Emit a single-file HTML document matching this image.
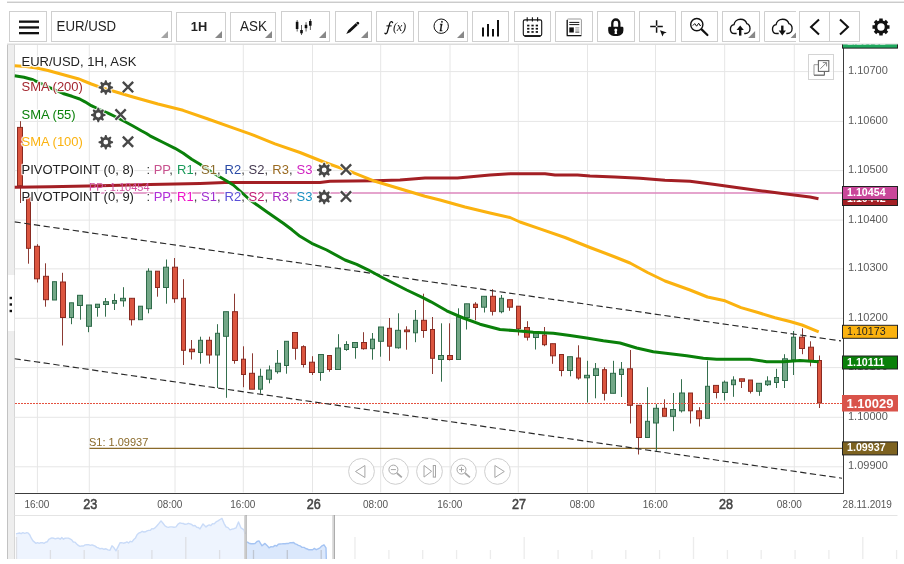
<!DOCTYPE html>
<html><head><meta charset="utf-8"><title>EUR/USD chart</title>
<style>
html,body{margin:0;padding:0;background:#fff;}
body{width:904px;height:564px;overflow:hidden;font-family:"Liberation Sans", sans-serif;}
svg{display:block;will-change:transform;}
text{font-family:"Liberation Sans", sans-serif;}
</style></head><body>
<svg width="904" height="564" viewBox="0 0 904 564">
<rect width="904" height="564" fill="#fff"/>

<rect x="7" y="1.6" width="897" height="1.3" fill="#c6c6c6"/>
<g fill="#fff" stroke="#cfcfcf" stroke-width="1">
<rect x="9.5" y="11.5" width="37.0" height="30"/>
<rect x="51.5" y="11.5" width="120.0" height="30"/>
<rect x="176.5" y="12.5" width="49.0" height="29"/>
<rect x="230.5" y="12.5" width="45.0" height="29"/>
<rect x="281.5" y="11.5" width="48.0" height="30"/>
<rect x="335.5" y="11.5" width="36.0" height="30"/>
<rect x="376.5" y="11.5" width="37.0" height="30"/>
<rect x="418.5" y="11.5" width="49.0" height="30"/>
<rect x="472.5" y="11.5" width="36.0" height="30"/>
<rect x="514.5" y="11.5" width="36.0" height="30"/>
<rect x="555.5" y="11.5" width="37.0" height="30"/>
<rect x="597.5" y="11.5" width="37.0" height="30"/>
<rect x="639.5" y="11.5" width="36.0" height="30"/>
<rect x="681.5" y="11.5" width="36.0" height="30"/>
<rect x="722.5" y="11.5" width="37.0" height="30"/>
<rect x="799.5" y="11.5" width="30.0" height="30"/>
<rect x="829.5" y="11.5" width="30.0" height="30"/>
<path d="M796,11.5H764.5V41.5H796"/>
</g>
<path d="M168.0,38 L161.0,38 L168.0,31 Z" fill="#a4a4a4"/>
<path d="M222.0,38 L215.0,38 L222.0,31 Z" fill="#888"/>
<path d="M272.0,38 L265.0,38 L272.0,31 Z" fill="#888"/>
<path d="M326.0,38 L319.0,38 L326.0,31 Z" fill="#888"/>
<path d="M368.0,38 L361.0,38 L368.0,31 Z" fill="#888"/>
<path d="M464.0,38 L457.0,38 L464.0,31 Z" fill="#888"/>
<path d="M755.1,38 L748.1,38 L755.1,31 Z" fill="#888"/>
<path d="M796,38 L790.6,38 L796,32.6 Z" fill="#888"/>
<g fill="#111"><rect x="19" y="20.5" width="20" height="2.3"/><rect x="19" y="26.3" width="20" height="2.3"/><rect x="19" y="32" width="20" height="2.3"/></g>
<text transform="translate(56.6,31) scale(0.945,1)" font-size="14" fill="#222">EUR/USD</text>
<text transform="translate(190.8,30.8) scale(0.97,1)" font-size="13.2" font-weight="bold" fill="#222">1H</text>
<text transform="translate(240,31) scale(0.96,1)" font-size="14" fill="#222">ASK</text>
<g fill="#111" stroke="none"><rect x="295.8" y="21.8" width="2.6" height="7.2"/><rect x="296.7" y="20" width="0.9" height="11.5" opacity=".75"/><rect x="300.2" y="30" width="2.6" height="3.3"/><rect x="301.1" y="25" width="0.9" height="10" opacity=".75"/><rect x="304.7" y="24.8" width="2.6" height="3.4"/><rect x="305.6" y="22.2" width="0.9" height="9.3" opacity=".75"/><rect x="309" y="21" width="2.6" height="4.7"/><rect x="309.9" y="19" width="0.9" height="11" opacity=".75"/></g>
<g transform="translate(352.7,28) rotate(-43)"><path d="M-8.8,0 L-4.8,-1.4 L7.2,-1.4 Q8.4,-1.4 8.4,0 Q8.4,1.4 7.2,1.4 L-4.8,1.4 Z" fill="#111"/><line x1="5.8" y1="-1.4" x2="5.8" y2="1.4" stroke="#fff" stroke-width=".5"/></g>
<g fill="none" stroke="#111" stroke-linecap="round"><path d="M392.6,22.7C392.4,21.3 390.3,21.1 389.7,23.4L387.3,32.2C386.8,33.9 385.5,34.1 384.9,33.2" stroke-width="1.3"/><path d="M386.8,25.9H391.3" stroke-width="1"/></g>
<text x="393" y="30.8" font-size="12.5" font-style="italic" style="font-family:'Liberation Serif',serif;letter-spacing:-0.4px" fill="#222">(x)</text>
<circle cx="441.2" cy="26.2" r="7.2" fill="none" stroke="#111" stroke-width="1"/>
<text x="441" y="30.8" font-size="15" font-style="italic" text-anchor="middle" stroke="#111" stroke-width=".3" style="font-family:'Liberation Serif',serif" fill="#111">i</text>
<g fill="#111"><rect x="482" y="27.5" width="2" height="9"/><rect x="487" y="24" width="2" height="12.5"/><rect x="492" y="29" width="2" height="7.5"/><rect x="497" y="20" width="2" height="16.5"/></g>
<g fill="none" stroke="#111"><rect x="523.3" y="19.9" width="18.4" height="16" rx="1.6" stroke-width="1.1"/><path d="M524.5,36.1h16" stroke-width="1.6"/><path d="M527.2,17.3v4.2M532.4,17.3v4.2M537.6,17.3v4.2" stroke-width="1.1"/></g>
<g fill="#111"><rect x="527.1" y="24.7" width="2.3" height="1.7"/><rect x="527.1" y="27.9" width="2.3" height="1.7"/><rect x="527.1" y="31.1" width="2.3" height="1.7"/><rect x="531.4" y="24.7" width="2.3" height="1.7"/><rect x="531.4" y="27.9" width="2.3" height="1.7"/><rect x="531.4" y="31.1" width="2.3" height="1.7"/><rect x="535.7" y="24.7" width="2.3" height="1.7"/><rect x="535.7" y="27.9" width="2.3" height="1.7"/><rect x="535.7" y="31.1" width="2.3" height="1.7"/></g>
<g><rect x="567.2" y="19" width="14.2" height="16.6" rx="1" fill="#fff" stroke="#999" stroke-width="1"/><path d="M567.2,20v15.6h14.2" fill="none" stroke="#111" stroke-width="1.2"/><path d="M569.3,22.4h10M569.3,24.6h10" stroke="#111" stroke-width="1"/><rect x="569.3" y="27.4" width="4.5" height="5.1" fill="#111"/><path d="M575.3,27.9h4M575.3,30h4" stroke="#888" stroke-width=".9"/><path d="M575.3,32.1h4" stroke="#222" stroke-width=".9"/></g>
<g><path d="M612.3,28v-5a3.5,3.5 0 0 1 7,0v5" fill="none" stroke="#111" stroke-width="2.3"/><path d="M609.4,26.8h12.8q1.2,0 1.2,1.2v2.4a5.6,5.6 0 0 1 -5.6,5.6h-4a5.6,5.6 0 0 1 -5.6,-5.6v-2.4q0,-1.2 1.2,-1.2z" fill="#111"/><circle cx="615.8" cy="30" r="1.5" fill="#fff"/><path d="M615,30.5h1.6l.5,3.6h-2.6z" fill="#fff"/></g>
<g><path d="M650.2,26.5h5.6M657.4,26.5h5.4M656.6,20.3v5.4M656.6,27.3v5.4" stroke="#111" stroke-width="1.5" fill="none"/><path d="M660,30.2l6.8,2.2l-3,1.1l-1.3,3.1z" fill="#111"/></g>
<g fill="none" stroke="#111"><circle cx="696.8" cy="24.6" r="6.1" stroke-width="1.4"/><path d="M701.6,29.4l5.8,5.6" stroke-width="2.2" stroke-linecap="round"/><path d="M692.8,25.6L694.7,23.6L696.6,26.2L698.7,23.2L700.2,25.8L701,24.8" stroke-width="1"/></g>
<g transform="translate(740.2,27)" fill="none" stroke="#111" stroke-width="1.35"><path d="M-3.6,6.5L-5.6,6.5C-8.2,6.5 -9.8,4.6 -9.8,2.2C-9.8,-0.2 -8.4,-2 -6.2,-2.4C-5.8,-5.6 -3,-7.8 0.4,-7.8C3.4,-7.8 5.8,-6 6.6,-3.4C8.6,-2.8 9.8,-1 9.8,1.4C9.8,4.2 7.8,6.4 5.2,6.5L4,6.5"/><path d="M0,8.6v-7" stroke-width="2.4"/><path d="M-3.6,3l3.6,-4.6l3.6,4.6z" fill="#111" stroke="none"/></g>
<clipPath id="cd"><rect x="760" y="10" width="36" height="33"/></clipPath><g clip-path="url(#cd)">
<g transform="translate(782.3,27)" fill="none" stroke="#111" stroke-width="1.35"><path d="M-3.6,6.5L-5.6,6.5C-8.2,6.5 -9.8,4.6 -9.8,2.2C-9.8,-0.2 -8.4,-2 -6.2,-2.4C-5.8,-5.6 -3,-7.8 0.4,-7.8C3.4,-7.8 5.8,-6 6.6,-3.4C8.6,-2.8 9.8,-1 9.8,1.4C9.8,4.2 7.8,6.4 5.2,6.5L4,6.5"/><path d="M0,-1.4v6" stroke-width="2.4"/><path d="M-3.6,3.6l3.6,4.9l3.6,-4.9z" fill="#111" stroke="none"/></g>
</g>
<path d="M819,19.5l-8,7.5l8,7.5" fill="none" stroke="#111" stroke-width="2"/>
<path d="M840,19.5l8,7.5l-8,7.5" fill="none" stroke="#111" stroke-width="2"/>
<path d="M887.45,25.18 L889.53,25.30 L889.53,28.70 L887.45,28.82 L886.85,30.27 L888.23,31.83 L885.83,34.23 L884.27,32.85 L882.82,33.45 L882.70,35.53 L879.30,35.53 L879.18,33.45 L877.73,32.85 L876.17,34.23 L873.77,31.83 L875.15,30.27 L874.55,28.82 L872.47,28.70 L872.47,25.30 L874.55,25.18 L875.15,23.73 L873.77,22.17 L876.17,19.77 L877.73,21.15 L879.18,20.55 L879.30,18.47 L882.70,18.47 L882.82,20.55 L884.27,21.15 L885.83,19.77 L888.23,22.17 L886.85,23.73 Z M884.70,27.00 A3.7,3.7 0 1 0 877.30,27.00 A3.7,3.7 0 1 0 884.70,27.00 Z" fill="#111" fill-rule="evenodd"/>
<rect x="7" y="44" width="8" height="515" fill="#eeeeee"/>
<rect x="7" y="44" width="1" height="515" fill="#c2c2c2"/>
<rect x="14" y="44" width="1" height="515" fill="#d6d6d6"/>
<rect x="8" y="275" width="6.3" height="56" fill="#fff"/>
<g fill="#111"><rect x="9.6" y="296.8" width="2.4" height="2.4"/><rect x="9.6" y="303.3" width="2.4" height="2.4"/><rect x="9.6" y="309.8" width="2.4" height="2.4"/></g>
<rect x="7" y="43.5" width="891" height="1.5" fill="#dcdcdc"/>
<g stroke="#e6e6e6" stroke-width="1">
<line x1="37.4" y1="45" x2="37.4" y2="492.5"/>
<line x1="89.3" y1="45" x2="89.3" y2="492.5"/>
<line x1="175.0" y1="45" x2="175.0" y2="492.5"/>
<line x1="243.3" y1="45" x2="243.3" y2="492.5"/>
<line x1="312.5" y1="45" x2="312.5" y2="492.5"/>
<line x1="380.7" y1="45" x2="380.7" y2="492.5"/>
<line x1="450.0" y1="45" x2="450.0" y2="492.5"/>
<line x1="518.3" y1="45" x2="518.3" y2="492.5"/>
<line x1="587.5" y1="45" x2="587.5" y2="492.5"/>
<line x1="655.5" y1="45" x2="655.5" y2="492.5"/>
<line x1="724.7" y1="45" x2="724.7" y2="492.5"/>
<line x1="794.3" y1="45" x2="794.3" y2="492.5"/>
<line x1="14.5" y1="71.6" x2="843" y2="71.6"/>
<line x1="14.5" y1="121.4" x2="843" y2="121.4"/>
<line x1="14.5" y1="170.6" x2="843" y2="170.6"/>
<line x1="14.5" y1="220.1" x2="843" y2="220.1"/>
<line x1="14.5" y1="268.85" x2="843" y2="268.85"/>
<line x1="14.5" y1="318.3" x2="843" y2="318.3"/>
<line x1="14.5" y1="367.6" x2="843" y2="367.6"/>
<line x1="14.5" y1="417.3" x2="843" y2="417.3"/>
<line x1="14.5" y1="466.8" x2="843" y2="466.8"/>
</g>
<clipPath id="plot"><rect x="14.5" y="45" width="828.5" height="447.5"/></clipPath>
<g clip-path="url(#plot)">
<line x1="89.5" y1="193.0" x2="843" y2="193.0" stroke="#dc86bd" stroke-width="1.3"/>
<line x1="89.5" y1="448.4" x2="843" y2="448.4" stroke="#8a6a2a" stroke-width="1.2"/>
<line x1="20.5" y1="121.2" x2="20.5" y2="203.0" stroke="#8c3a33" stroke-width="1"/>
<rect x="17.5" y="127.4" width="5" height="58.3" fill="#db553f" stroke="#8a2a21" stroke-width="1"/>
<line x1="28.5" y1="197.0" x2="28.5" y2="263.7" stroke="#8c3a33" stroke-width="1"/>
<rect x="26.5" y="197.5" width="4" height="50.8" fill="#db553f" stroke="#8a2a21" stroke-width="1"/>
<line x1="37.5" y1="244.2" x2="37.5" y2="282.5" stroke="#8c3a33" stroke-width="1"/>
<rect x="34.5" y="246.3" width="5" height="32.5" fill="#db553f" stroke="#8a2a21" stroke-width="1"/>
<line x1="45.5" y1="263.3" x2="45.5" y2="306.7" stroke="#8c3a33" stroke-width="1"/>
<rect x="43.5" y="276.3" width="5" height="23.4" fill="#db553f" stroke="#8a2a21" stroke-width="1"/>
<line x1="54.5" y1="281.7" x2="54.5" y2="300.0" stroke="#356f4e" stroke-width="1"/>
<rect x="52.5" y="281.7" width="4" height="18.3" fill="#73a787" stroke="#2f6b4a" stroke-width="1"/>
<line x1="62.5" y1="272.8" x2="62.5" y2="345.5" stroke="#8c3a33" stroke-width="1"/>
<rect x="60.5" y="282.0" width="5" height="35.5" fill="#db553f" stroke="#8a2a21" stroke-width="1"/>
<line x1="71.5" y1="302.8" x2="71.5" y2="324.2" stroke="#356f4e" stroke-width="1"/>
<rect x="69.5" y="302.8" width="4" height="14.7" fill="#73a787" stroke="#2f6b4a" stroke-width="1"/>
<line x1="80.5" y1="295.3" x2="80.5" y2="319.7" stroke="#356f4e" stroke-width="1"/>
<rect x="77.5" y="295.3" width="5" height="10.2" fill="#73a787" stroke="#2f6b4a" stroke-width="1"/>
<line x1="88.5" y1="305.0" x2="88.5" y2="332.2" stroke="#356f4e" stroke-width="1"/>
<rect x="86.5" y="305.0" width="5" height="21.3" fill="#73a787" stroke="#2f6b4a" stroke-width="1"/>
<line x1="97.5" y1="304.2" x2="97.5" y2="316.7" stroke="#356f4e" stroke-width="1"/>
<rect x="95.5" y="304.2" width="4" height="3.3" fill="#73a787" stroke="#2f6b4a" stroke-width="1"/>
<line x1="105.5" y1="298.0" x2="105.5" y2="316.7" stroke="#356f4e" stroke-width="1"/>
<rect x="103.5" y="301.7" width="5" height="2.8" fill="#73a787" stroke="#2f6b4a" stroke-width="1"/>
<line x1="114.5" y1="293.8" x2="114.5" y2="310.0" stroke="#356f4e" stroke-width="1"/>
<rect x="112.5" y="300.5" width="4" height="2.8" fill="#73a787" stroke="#2f6b4a" stroke-width="1"/>
<line x1="123.5" y1="287.2" x2="123.5" y2="306.7" stroke="#356f4e" stroke-width="1"/>
<rect x="120.5" y="298.3" width="5" height="2.5" fill="#73a787" stroke="#2f6b4a" stroke-width="1"/>
<line x1="131.5" y1="298.3" x2="131.5" y2="325.5" stroke="#8c3a33" stroke-width="1"/>
<rect x="129.5" y="298.3" width="5" height="21.4" fill="#db553f" stroke="#8a2a21" stroke-width="1"/>
<line x1="140.5" y1="306.2" x2="140.5" y2="319.7" stroke="#356f4e" stroke-width="1"/>
<rect x="138.5" y="306.2" width="4" height="13.5" fill="#73a787" stroke="#2f6b4a" stroke-width="1"/>
<line x1="148.5" y1="268.3" x2="148.5" y2="313.3" stroke="#356f4e" stroke-width="1"/>
<rect x="146.5" y="271.2" width="5" height="37.5" fill="#73a787" stroke="#2f6b4a" stroke-width="1"/>
<line x1="157.5" y1="271.2" x2="157.5" y2="296.7" stroke="#8c3a33" stroke-width="1"/>
<rect x="155.5" y="271.2" width="4" height="16.3" fill="#db553f" stroke="#8a2a21" stroke-width="1"/>
<line x1="166.5" y1="259.5" x2="166.5" y2="303.7" stroke="#356f4e" stroke-width="1"/>
<rect x="163.5" y="267.2" width="5" height="20.3" fill="#73a787" stroke="#2f6b4a" stroke-width="1"/>
<line x1="174.5" y1="258.0" x2="174.5" y2="302.8" stroke="#8c3a33" stroke-width="1"/>
<rect x="172.5" y="267.2" width="5" height="31.5" fill="#db553f" stroke="#8a2a21" stroke-width="1"/>
<line x1="183.5" y1="279.2" x2="183.5" y2="365.0" stroke="#8c3a33" stroke-width="1"/>
<rect x="181.5" y="298.3" width="4" height="52.0" fill="#db553f" stroke="#8a2a21" stroke-width="1"/>
<line x1="191.5" y1="340.0" x2="191.5" y2="359.5" stroke="#8c3a33" stroke-width="1"/>
<rect x="189.5" y="349.2" width="5" height="2.5" fill="#db553f" stroke="#8a2a21" stroke-width="1"/>
<line x1="200.5" y1="336.7" x2="200.5" y2="363.7" stroke="#356f4e" stroke-width="1"/>
<rect x="198.5" y="340.3" width="4" height="12.2" fill="#73a787" stroke="#2f6b4a" stroke-width="1"/>
<line x1="209.5" y1="336.7" x2="209.5" y2="363.7" stroke="#8c3a33" stroke-width="1"/>
<rect x="206.5" y="340.3" width="5" height="14.7" fill="#db553f" stroke="#8a2a21" stroke-width="1"/>
<line x1="217.5" y1="324.2" x2="217.5" y2="388.0" stroke="#356f4e" stroke-width="1"/>
<rect x="215.5" y="333.3" width="4" height="21.7" fill="#73a787" stroke="#2f6b4a" stroke-width="1"/>
<line x1="226.5" y1="311.7" x2="226.5" y2="397.8" stroke="#356f4e" stroke-width="1"/>
<rect x="223.5" y="311.7" width="5" height="24.6" fill="#73a787" stroke="#2f6b4a" stroke-width="1"/>
<line x1="234.5" y1="293.7" x2="234.5" y2="363.7" stroke="#8c3a33" stroke-width="1"/>
<rect x="232.5" y="311.7" width="5" height="48.8" fill="#db553f" stroke="#8a2a21" stroke-width="1"/>
<line x1="243.5" y1="346.3" x2="243.5" y2="387.2" stroke="#8c3a33" stroke-width="1"/>
<rect x="241.5" y="359.2" width="4" height="15.3" fill="#db553f" stroke="#8a2a21" stroke-width="1"/>
<line x1="252.5" y1="353.3" x2="252.5" y2="389.2" stroke="#8c3a33" stroke-width="1"/>
<rect x="249.5" y="373.3" width="5" height="15.9" fill="#db553f" stroke="#8a2a21" stroke-width="1"/>
<line x1="260.5" y1="368.7" x2="260.5" y2="393.7" stroke="#356f4e" stroke-width="1"/>
<rect x="258.5" y="376.3" width="4" height="12.9" fill="#73a787" stroke="#2f6b4a" stroke-width="1"/>
<line x1="269.5" y1="365.5" x2="269.5" y2="383.3" stroke="#356f4e" stroke-width="1"/>
<rect x="266.5" y="370.0" width="5" height="9.2" fill="#73a787" stroke="#2f6b4a" stroke-width="1"/>
<line x1="277.5" y1="350.0" x2="277.5" y2="373.7" stroke="#356f4e" stroke-width="1"/>
<rect x="275.5" y="363.3" width="5" height="8.4" fill="#73a787" stroke="#2f6b4a" stroke-width="1"/>
<line x1="286.5" y1="341.3" x2="286.5" y2="373.7" stroke="#356f4e" stroke-width="1"/>
<rect x="284.5" y="341.3" width="4" height="24.2" fill="#73a787" stroke="#2f6b4a" stroke-width="1"/>
<line x1="295.5" y1="332.5" x2="295.5" y2="359.7" stroke="#8c3a33" stroke-width="1"/>
<rect x="292.5" y="332.5" width="5" height="15.8" fill="#db553f" stroke="#8a2a21" stroke-width="1"/>
<line x1="303.5" y1="345.3" x2="303.5" y2="367.5" stroke="#8c3a33" stroke-width="1"/>
<rect x="301.5" y="346.7" width="4" height="17.8" fill="#db553f" stroke="#8a2a21" stroke-width="1"/>
<line x1="312.5" y1="356.2" x2="312.5" y2="375.0" stroke="#8c3a33" stroke-width="1"/>
<rect x="309.5" y="362.2" width="5" height="10.3" fill="#db553f" stroke="#8a2a21" stroke-width="1"/>
<line x1="320.5" y1="354.5" x2="320.5" y2="380.8" stroke="#356f4e" stroke-width="1"/>
<rect x="318.5" y="354.5" width="5" height="18.0" fill="#73a787" stroke="#2f6b4a" stroke-width="1"/>
<line x1="329.5" y1="355.5" x2="329.5" y2="371.7" stroke="#8c3a33" stroke-width="1"/>
<rect x="327.5" y="355.5" width="4" height="14.0" fill="#db553f" stroke="#8a2a21" stroke-width="1"/>
<line x1="338.5" y1="334.2" x2="338.5" y2="369.5" stroke="#356f4e" stroke-width="1"/>
<rect x="335.5" y="348.0" width="5" height="21.5" fill="#73a787" stroke="#2f6b4a" stroke-width="1"/>
<line x1="346.5" y1="341.2" x2="346.5" y2="350.8" stroke="#356f4e" stroke-width="1"/>
<rect x="344.5" y="344.5" width="4" height="5.0" fill="#73a787" stroke="#2f6b4a" stroke-width="1"/>
<line x1="355.5" y1="342.5" x2="355.5" y2="358.7" stroke="#356f4e" stroke-width="1"/>
<rect x="352.5" y="342.5" width="5" height="5.0" fill="#73a787" stroke="#2f6b4a" stroke-width="1"/>
<line x1="363.5" y1="332.2" x2="363.5" y2="349.7" stroke="#8c3a33" stroke-width="1"/>
<rect x="361.5" y="342.5" width="5" height="6.2" fill="#db553f" stroke="#8a2a21" stroke-width="1"/>
<line x1="372.5" y1="333.0" x2="372.5" y2="359.7" stroke="#356f4e" stroke-width="1"/>
<rect x="370.5" y="339.2" width="4" height="9.5" fill="#73a787" stroke="#2f6b4a" stroke-width="1"/>
<line x1="380.5" y1="327.0" x2="380.5" y2="356.7" stroke="#356f4e" stroke-width="1"/>
<rect x="378.5" y="327.0" width="5" height="14.3" fill="#73a787" stroke="#2f6b4a" stroke-width="1"/>
<line x1="389.5" y1="318.0" x2="389.5" y2="360.8" stroke="#8c3a33" stroke-width="1"/>
<rect x="387.5" y="328.3" width="4" height="17.9" fill="#db553f" stroke="#8a2a21" stroke-width="1"/>
<line x1="398.5" y1="313.3" x2="398.5" y2="348.7" stroke="#356f4e" stroke-width="1"/>
<rect x="395.5" y="330.3" width="5" height="17.5" fill="#73a787" stroke="#2f6b4a" stroke-width="1"/>
<line x1="406.5" y1="326.3" x2="406.5" y2="349.7" stroke="#8c3a33" stroke-width="1"/>
<rect x="404.5" y="330.0" width="5" height="1.7" fill="#db553f" stroke="#8a2a21" stroke-width="1"/>
<line x1="415.5" y1="310.0" x2="415.5" y2="342.2" stroke="#356f4e" stroke-width="1"/>
<rect x="413.5" y="320.3" width="4" height="12.5" fill="#73a787" stroke="#2f6b4a" stroke-width="1"/>
<line x1="423.5" y1="293.7" x2="423.5" y2="337.8" stroke="#8c3a33" stroke-width="1"/>
<rect x="421.5" y="320.3" width="5" height="10.2" fill="#db553f" stroke="#8a2a21" stroke-width="1"/>
<line x1="432.5" y1="317.0" x2="432.5" y2="374.0" stroke="#8c3a33" stroke-width="1"/>
<rect x="430.5" y="329.5" width="4" height="28.8" fill="#db553f" stroke="#8a2a21" stroke-width="1"/>
<line x1="441.5" y1="323.3" x2="441.5" y2="381.7" stroke="#356f4e" stroke-width="1"/>
<rect x="438.5" y="355.5" width="5" height="4.0" fill="#73a787" stroke="#2f6b4a" stroke-width="1"/>
<line x1="449.5" y1="323.3" x2="449.5" y2="360.5" stroke="#8c3a33" stroke-width="1"/>
<rect x="447.5" y="355.5" width="5" height="4.0" fill="#db553f" stroke="#8a2a21" stroke-width="1"/>
<line x1="458.5" y1="308.3" x2="458.5" y2="359.5" stroke="#356f4e" stroke-width="1"/>
<rect x="456.5" y="317.0" width="4" height="42.5" fill="#73a787" stroke="#2f6b4a" stroke-width="1"/>
<line x1="466.5" y1="303.8" x2="466.5" y2="329.5" stroke="#356f4e" stroke-width="1"/>
<rect x="464.5" y="303.8" width="5" height="13.7" fill="#73a787" stroke="#2f6b4a" stroke-width="1"/>
<line x1="475.5" y1="302.2" x2="475.5" y2="320.3" stroke="#8c3a33" stroke-width="1"/>
<rect x="473.5" y="304.2" width="4" height="3.3" fill="#db553f" stroke="#8a2a21" stroke-width="1"/>
<line x1="484.5" y1="296.3" x2="484.5" y2="312.5" stroke="#356f4e" stroke-width="1"/>
<rect x="481.5" y="296.3" width="5" height="10.9" fill="#73a787" stroke="#2f6b4a" stroke-width="1"/>
<line x1="492.5" y1="289.2" x2="492.5" y2="315.5" stroke="#8c3a33" stroke-width="1"/>
<rect x="490.5" y="296.3" width="5" height="15.0" fill="#db553f" stroke="#8a2a21" stroke-width="1"/>
<line x1="501.5" y1="295.0" x2="501.5" y2="313.3" stroke="#356f4e" stroke-width="1"/>
<rect x="499.5" y="298.3" width="4" height="13.4" fill="#73a787" stroke="#2f6b4a" stroke-width="1"/>
<line x1="509.5" y1="299.7" x2="509.5" y2="310.8" stroke="#8c3a33" stroke-width="1"/>
<rect x="507.5" y="299.7" width="5" height="7.5" fill="#db553f" stroke="#8a2a21" stroke-width="1"/>
<line x1="518.5" y1="306.2" x2="518.5" y2="335.5" stroke="#8c3a33" stroke-width="1"/>
<rect x="516.5" y="306.2" width="4" height="22.5" fill="#db553f" stroke="#8a2a21" stroke-width="1"/>
<line x1="527.5" y1="321.2" x2="527.5" y2="340.5" stroke="#8c3a33" stroke-width="1"/>
<rect x="524.5" y="327.5" width="5" height="9.7" fill="#db553f" stroke="#8a2a21" stroke-width="1"/>
<line x1="535.5" y1="332.0" x2="535.5" y2="349.5" stroke="#356f4e" stroke-width="1"/>
<rect x="533.5" y="332.0" width="5" height="5.5" fill="#73a787" stroke="#2f6b4a" stroke-width="1"/>
<line x1="544.5" y1="327.0" x2="544.5" y2="346.2" stroke="#8c3a33" stroke-width="1"/>
<rect x="542.5" y="335.0" width="4" height="9.7" fill="#db553f" stroke="#8a2a21" stroke-width="1"/>
<line x1="552.5" y1="343.7" x2="552.5" y2="363.8" stroke="#8c3a33" stroke-width="1"/>
<rect x="550.5" y="343.7" width="5" height="12.1" fill="#db553f" stroke="#8a2a21" stroke-width="1"/>
<line x1="561.5" y1="354.5" x2="561.5" y2="376.3" stroke="#8c3a33" stroke-width="1"/>
<rect x="559.5" y="354.5" width="4" height="16.0" fill="#db553f" stroke="#8a2a21" stroke-width="1"/>
<line x1="570.5" y1="356.7" x2="570.5" y2="376.3" stroke="#356f4e" stroke-width="1"/>
<rect x="567.5" y="356.7" width="5" height="13.8" fill="#73a787" stroke="#2f6b4a" stroke-width="1"/>
<line x1="578.5" y1="345.3" x2="578.5" y2="379.7" stroke="#8c3a33" stroke-width="1"/>
<rect x="576.5" y="358.0" width="4" height="20.0" fill="#db553f" stroke="#8a2a21" stroke-width="1"/>
<line x1="587.5" y1="360.8" x2="587.5" y2="402.5" stroke="#356f4e" stroke-width="1"/>
<rect x="584.5" y="375.3" width="5" height="2.5" fill="#73a787" stroke="#2f6b4a" stroke-width="1"/>
<line x1="595.5" y1="363.0" x2="595.5" y2="398.3" stroke="#356f4e" stroke-width="1"/>
<rect x="593.5" y="368.8" width="5" height="6.7" fill="#73a787" stroke="#2f6b4a" stroke-width="1"/>
<line x1="604.5" y1="367.2" x2="604.5" y2="400.5" stroke="#8c3a33" stroke-width="1"/>
<rect x="602.5" y="369.7" width="4" height="23.6" fill="#db553f" stroke="#8a2a21" stroke-width="1"/>
<line x1="613.5" y1="360.8" x2="613.5" y2="393.3" stroke="#356f4e" stroke-width="1"/>
<rect x="610.5" y="373.3" width="5" height="20.0" fill="#73a787" stroke="#2f6b4a" stroke-width="1"/>
<line x1="621.5" y1="362.0" x2="621.5" y2="397.0" stroke="#356f4e" stroke-width="1"/>
<rect x="619.5" y="369.2" width="4" height="5.3" fill="#73a787" stroke="#2f6b4a" stroke-width="1"/>
<line x1="630.5" y1="350.0" x2="630.5" y2="423.5" stroke="#8c3a33" stroke-width="1"/>
<rect x="627.5" y="368.8" width="5" height="36.5" fill="#db553f" stroke="#8a2a21" stroke-width="1"/>
<line x1="638.5" y1="405.3" x2="638.5" y2="454.5" stroke="#8c3a33" stroke-width="1"/>
<rect x="636.5" y="405.3" width="5" height="32.2" fill="#db553f" stroke="#8a2a21" stroke-width="1"/>
<line x1="647.5" y1="387.2" x2="647.5" y2="437.5" stroke="#356f4e" stroke-width="1"/>
<rect x="645.5" y="421.3" width="4" height="16.2" fill="#73a787" stroke="#2f6b4a" stroke-width="1"/>
<line x1="656.5" y1="404.2" x2="656.5" y2="450.8" stroke="#356f4e" stroke-width="1"/>
<rect x="653.5" y="408.3" width="5" height="14.7" fill="#73a787" stroke="#2f6b4a" stroke-width="1"/>
<line x1="664.5" y1="399.3" x2="664.5" y2="416.3" stroke="#8c3a33" stroke-width="1"/>
<rect x="662.5" y="408.3" width="4" height="8.0" fill="#db553f" stroke="#8a2a21" stroke-width="1"/>
<line x1="673.5" y1="393.0" x2="673.5" y2="431.2" stroke="#356f4e" stroke-width="1"/>
<rect x="670.5" y="409.5" width="5" height="6.8" fill="#73a787" stroke="#2f6b4a" stroke-width="1"/>
<line x1="681.5" y1="379.2" x2="681.5" y2="412.5" stroke="#356f4e" stroke-width="1"/>
<rect x="679.5" y="393.0" width="5" height="17.8" fill="#73a787" stroke="#2f6b4a" stroke-width="1"/>
<line x1="690.5" y1="393.0" x2="690.5" y2="423.5" stroke="#8c3a33" stroke-width="1"/>
<rect x="688.5" y="393.0" width="4" height="17.8" fill="#db553f" stroke="#8a2a21" stroke-width="1"/>
<line x1="699.5" y1="407.2" x2="699.5" y2="426.5" stroke="#8c3a33" stroke-width="1"/>
<rect x="696.5" y="410.8" width="5" height="7.9" fill="#db553f" stroke="#8a2a21" stroke-width="1"/>
<line x1="707.5" y1="360.6" x2="707.5" y2="418.3" stroke="#356f4e" stroke-width="1"/>
<rect x="705.5" y="386.3" width="4" height="32.0" fill="#73a787" stroke="#2f6b4a" stroke-width="1"/>
<line x1="716.5" y1="385.4" x2="716.5" y2="398.4" stroke="#8c3a33" stroke-width="1"/>
<rect x="713.5" y="385.4" width="5" height="7.1" fill="#db553f" stroke="#8a2a21" stroke-width="1"/>
<line x1="724.5" y1="380.5" x2="724.5" y2="400.5" stroke="#356f4e" stroke-width="1"/>
<rect x="722.5" y="382.2" width="5" height="10.3" fill="#73a787" stroke="#2f6b4a" stroke-width="1"/>
<line x1="733.5" y1="376.3" x2="733.5" y2="396.8" stroke="#356f4e" stroke-width="1"/>
<rect x="731.5" y="380.0" width="4" height="4.7" fill="#73a787" stroke="#2f6b4a" stroke-width="1"/>
<line x1="741.5" y1="378.8" x2="741.5" y2="388.0" stroke="#8c3a33" stroke-width="1"/>
<rect x="739.5" y="378.8" width="5" height="2.5" fill="#db553f" stroke="#8a2a21" stroke-width="1"/>
<line x1="750.5" y1="380.0" x2="750.5" y2="393.5" stroke="#8c3a33" stroke-width="1"/>
<rect x="748.5" y="380.0" width="4" height="11.3" fill="#db553f" stroke="#8a2a21" stroke-width="1"/>
<line x1="759.5" y1="383.3" x2="759.5" y2="395.8" stroke="#356f4e" stroke-width="1"/>
<rect x="756.5" y="383.3" width="5" height="8.0" fill="#73a787" stroke="#2f6b4a" stroke-width="1"/>
<line x1="767.5" y1="376.3" x2="767.5" y2="386.0" stroke="#356f4e" stroke-width="1"/>
<rect x="765.5" y="381.0" width="5" height="3.7" fill="#73a787" stroke="#2f6b4a" stroke-width="1"/>
<line x1="776.5" y1="368.8" x2="776.5" y2="388.0" stroke="#356f4e" stroke-width="1"/>
<rect x="774.5" y="377.5" width="4" height="5.0" fill="#73a787" stroke="#2f6b4a" stroke-width="1"/>
<line x1="784.5" y1="354.2" x2="784.5" y2="388.0" stroke="#356f4e" stroke-width="1"/>
<rect x="782.5" y="358.8" width="5" height="21.7" fill="#73a787" stroke="#2f6b4a" stroke-width="1"/>
<line x1="793.5" y1="331.0" x2="793.5" y2="375.0" stroke="#356f4e" stroke-width="1"/>
<rect x="791.5" y="337.2" width="4" height="22.5" fill="#73a787" stroke="#2f6b4a" stroke-width="1"/>
<line x1="802.5" y1="328.3" x2="802.5" y2="354.2" stroke="#8c3a33" stroke-width="1"/>
<rect x="799.5" y="337.2" width="5" height="11.3" fill="#db553f" stroke="#8a2a21" stroke-width="1"/>
<line x1="810.5" y1="341.3" x2="810.5" y2="366.3" stroke="#8c3a33" stroke-width="1"/>
<rect x="808.5" y="347.2" width="5" height="13.8" fill="#db553f" stroke="#8a2a21" stroke-width="1"/>
<line x1="819.5" y1="355.5" x2="819.5" y2="408.0" stroke="#8c3a33" stroke-width="1"/>
<rect x="817.5" y="360.5" width="4" height="42.5" fill="#db553f" stroke="#8a2a21" stroke-width="1"/>
<line x1="15" y1="403.5" x2="843" y2="403.5" stroke="#e4513f" stroke-width="1" stroke-dasharray="2 1"/>
<line x1="14.5" y1="221.9" x2="841" y2="340.9" stroke="#2a2a2a" stroke-width="1.15" stroke-dasharray="6.3 3.5"/>
<line x1="14.5" y1="358.7" x2="842" y2="478.2" stroke="#2a2a2a" stroke-width="1.15" stroke-dasharray="6.3 3.5"/>
<path d="M14.5,187.3 L50.0,186.8 L100.0,185.7 L150.0,184.5 L200.0,183.4 L225.0,182.6 L320.0,182.5 L330.0,181.3 L375.0,180.8 L400.0,180.0 L425.0,178.0 L440.0,178.0 L457.5,178.0 L490.0,175.0 L510.0,173.8 L545.0,173.8 L555.0,175.0 L577.5,175.0 L590.0,176.0 L615.0,177.0 L640.0,178.3 L665.0,180.2 L690.0,181.3 L715.0,184.5 L740.0,188.0 L765.0,191.3 L790.0,194.5 L810.0,197.0 L818.5,198.8" fill="none" stroke="#a31f24" stroke-width="3" stroke-linejoin="round" stroke-linecap="butt"/>
<path d="M14.5,75.7 L24.0,77.3 L33.0,79.8 L41.0,83.5 L49.7,87.7 L63.0,93.5 L72.0,96.3 L79.7,99.0 L85.0,101.8 L91.3,105.7 L100.0,109.8 L108.0,113.2 L116.0,117.0 L124.7,121.5 L133.0,126.0 L141.3,130.7 L146.0,133.2 L150.0,135.8 L156.0,138.9 L163.3,142.5 L175.0,148.3 L183.3,153.3 L191.7,159.2 L200.0,164.2 L208.3,170.0 L216.7,175.0 L225.0,180.0 L233.3,185.0 L241.7,192.5 L250.0,200.0 L258.3,205.8 L266.7,211.7 L275.0,217.5 L283.3,223.3 L292.0,229.8 L300.0,236.3 L311.7,243.3 L326.7,250.0 L345.0,260.0 L356.7,264.3 L368.0,269.8 L380.8,276.7 L394.0,283.5 L406.7,290.0 L423.3,297.8 L431.0,301.8 L446.7,310.8 L463.3,318.0 L480.0,324.2 L500.0,329.5 L516.7,330.8 L533.3,332.2 L553.3,333.3 L570.0,335.5 L586.7,338.0 L603.3,340.8 L620.0,343.0 L636.7,348.0 L653.3,351.7 L670.0,353.7 L686.7,355.8 L703.3,358.3 L716.7,359.2 L733.3,359.2 L750.0,359.2 L766.7,361.7 L783.3,361.7 L800.0,360.5 L818.7,361.7" fill="none" stroke="#0a800a" stroke-width="3" stroke-linejoin="round"/>
<path d="M14.5,65.7 L26.0,66.5 L38.0,68.2 L48.0,70.5 L58.0,73.2 L78.0,78.7 L91.3,84.0 L101.3,87.7 L112.0,90.8 L133.0,97.0 L158.0,104.0 L183.0,110.3 L208.0,119.0 L233.0,127.8 L250.0,133.8 L275.0,143.8 L300.0,152.5 L325.0,162.5 L350.0,171.3 L375.0,181.3 L400.0,188.8 L425.0,196.3 L440.0,200.0 L465.0,207.0 L490.0,213.0 L510.0,217.5 L520.0,222.0 L540.0,228.8 L565.0,237.5 L590.0,247.5 L615.0,257.0 L630.0,263.0 L647.5,272.5 L665.0,281.0 L690.0,290.0 L707.5,297.0 L725.0,300.8 L741.0,307.6 L758.0,312.5 L775.0,317.7 L790.0,321.5 L802.0,325.0 L818.7,331.8" fill="none" stroke="#fbb20f" stroke-width="3" stroke-linejoin="round"/>
<text x="89" y="190.5" font-size="11" fill="#d252a2">PP: 1.10454</text>
<text x="89" y="445.9" font-size="11" fill="#8a6a2a">S1: 1.09937</text>
</g>
<text x="21.5" y="65.8" font-size="13" fill="#222" stroke="#fff" stroke-width="2.6" stroke-opacity=".85" paint-order="stroke" stroke-linejoin="round">EUR/USD, 1H, ASK</text>
<text x="21.5" y="90.8" font-size="13" fill="#a3262e" stroke="#fff" stroke-width="2.6" stroke-opacity=".85" paint-order="stroke" stroke-linejoin="round">SMA (200)</text>
<text x="21.5" y="118.6" font-size="13" fill="#0a800a" stroke="#fff" stroke-width="2.6" stroke-opacity=".85" paint-order="stroke" stroke-linejoin="round">SMA (55)</text>
<text x="21.5" y="146" font-size="13" fill="#fbb20f" stroke="#fff" stroke-width="2.6" stroke-opacity=".85" paint-order="stroke" stroke-linejoin="round">SMA (100)</text>
<path d="M104.35,82.51 L105.06,80.24 L106.54,80.24 L107.25,82.51 L108.31,82.94 L110.41,81.84 L111.46,82.89 L110.36,84.99 L110.79,86.05 L113.06,86.76 L113.06,88.24 L110.79,88.95 L110.36,90.01 L111.46,92.11 L110.41,93.16 L108.31,92.06 L107.25,92.49 L106.54,94.76 L105.06,94.76 L104.35,92.49 L103.29,92.06 L101.19,93.16 L100.14,92.11 L101.24,90.01 L100.81,88.95 L98.54,88.24 L98.54,86.76 L100.81,86.05 L101.24,84.99 L100.14,82.89 L101.19,81.84 L103.29,82.94 Z M108.20,87.50 A2.4,2.4 0 1 0 103.40,87.50 A2.4,2.4 0 1 0 108.20,87.50 Z" fill="none" stroke="#fff" stroke-opacity=".8" stroke-width="2" fill-rule="evenodd" stroke-linejoin="round"/><path d="M104.35,82.51 L105.06,80.24 L106.54,80.24 L107.25,82.51 L108.31,82.94 L110.41,81.84 L111.46,82.89 L110.36,84.99 L110.79,86.05 L113.06,86.76 L113.06,88.24 L110.79,88.95 L110.36,90.01 L111.46,92.11 L110.41,93.16 L108.31,92.06 L107.25,92.49 L106.54,94.76 L105.06,94.76 L104.35,92.49 L103.29,92.06 L101.19,93.16 L100.14,92.11 L101.24,90.01 L100.81,88.95 L98.54,88.24 L98.54,86.76 L100.81,86.05 L101.24,84.99 L100.14,82.89 L101.19,81.84 L103.29,82.94 Z M108.20,87.50 A2.4,2.4 0 1 0 103.40,87.50 A2.4,2.4 0 1 0 108.20,87.50 Z" fill="#484848" fill-rule="evenodd" stroke-linejoin="round"/>
<path d="M122.85,81.94999999999999L133.15,92.25M133.15,81.94999999999999L122.85,92.25" stroke="#fff" stroke-opacity=".8" stroke-width="4.2" fill="none"/><path d="M122.85,81.94999999999999L133.15,92.25M133.15,81.94999999999999L122.85,92.25" stroke="#484848" stroke-width="2.4" fill="none"/>
<path d="M96.85,110.01 L97.56,107.74 L99.04,107.74 L99.75,110.01 L100.81,110.44 L102.91,109.34 L103.96,110.39 L102.86,112.49 L103.29,113.55 L105.56,114.26 L105.56,115.74 L103.29,116.45 L102.86,117.51 L103.96,119.61 L102.91,120.66 L100.81,119.56 L99.75,119.99 L99.04,122.26 L97.56,122.26 L96.85,119.99 L95.79,119.56 L93.69,120.66 L92.64,119.61 L93.74,117.51 L93.31,116.45 L91.04,115.74 L91.04,114.26 L93.31,113.55 L93.74,112.49 L92.64,110.39 L93.69,109.34 L95.79,110.44 Z M100.70,115.00 A2.4,2.4 0 1 0 95.90,115.00 A2.4,2.4 0 1 0 100.70,115.00 Z" fill="none" stroke="#fff" stroke-opacity=".8" stroke-width="2" fill-rule="evenodd" stroke-linejoin="round"/><path d="M96.85,110.01 L97.56,107.74 L99.04,107.74 L99.75,110.01 L100.81,110.44 L102.91,109.34 L103.96,110.39 L102.86,112.49 L103.29,113.55 L105.56,114.26 L105.56,115.74 L103.29,116.45 L102.86,117.51 L103.96,119.61 L102.91,120.66 L100.81,119.56 L99.75,119.99 L99.04,122.26 L97.56,122.26 L96.85,119.99 L95.79,119.56 L93.69,120.66 L92.64,119.61 L93.74,117.51 L93.31,116.45 L91.04,115.74 L91.04,114.26 L93.31,113.55 L93.74,112.49 L92.64,110.39 L93.69,109.34 L95.79,110.44 Z M100.70,115.00 A2.4,2.4 0 1 0 95.90,115.00 A2.4,2.4 0 1 0 100.70,115.00 Z" fill="#484848" fill-rule="evenodd" stroke-linejoin="round"/>
<path d="M115.44999999999999,109.44999999999999L125.75,119.75M125.75,109.44999999999999L115.44999999999999,119.75" stroke="#fff" stroke-opacity=".8" stroke-width="4.2" fill="none"/><path d="M115.44999999999999,109.44999999999999L125.75,119.75M125.75,109.44999999999999L115.44999999999999,119.75" stroke="#484848" stroke-width="2.4" fill="none"/>
<path d="M104.35,137.21 L105.06,134.94 L106.54,134.94 L107.25,137.21 L108.31,137.64 L110.41,136.54 L111.46,137.59 L110.36,139.69 L110.79,140.75 L113.06,141.46 L113.06,142.94 L110.79,143.65 L110.36,144.71 L111.46,146.81 L110.41,147.86 L108.31,146.76 L107.25,147.19 L106.54,149.46 L105.06,149.46 L104.35,147.19 L103.29,146.76 L101.19,147.86 L100.14,146.81 L101.24,144.71 L100.81,143.65 L98.54,142.94 L98.54,141.46 L100.81,140.75 L101.24,139.69 L100.14,137.59 L101.19,136.54 L103.29,137.64 Z M108.20,142.20 A2.4,2.4 0 1 0 103.40,142.20 A2.4,2.4 0 1 0 108.20,142.20 Z" fill="none" stroke="#fff" stroke-opacity=".8" stroke-width="2" fill-rule="evenodd" stroke-linejoin="round"/><path d="M104.35,137.21 L105.06,134.94 L106.54,134.94 L107.25,137.21 L108.31,137.64 L110.41,136.54 L111.46,137.59 L110.36,139.69 L110.79,140.75 L113.06,141.46 L113.06,142.94 L110.79,143.65 L110.36,144.71 L111.46,146.81 L110.41,147.86 L108.31,146.76 L107.25,147.19 L106.54,149.46 L105.06,149.46 L104.35,147.19 L103.29,146.76 L101.19,147.86 L100.14,146.81 L101.24,144.71 L100.81,143.65 L98.54,142.94 L98.54,141.46 L100.81,140.75 L101.24,139.69 L100.14,137.59 L101.19,136.54 L103.29,137.64 Z M108.20,142.20 A2.4,2.4 0 1 0 103.40,142.20 A2.4,2.4 0 1 0 108.20,142.20 Z" fill="#484848" fill-rule="evenodd" stroke-linejoin="round"/>
<path d="M122.85,136.64999999999998L133.15,146.95M133.15,136.64999999999998L122.85,146.95" stroke="#fff" stroke-opacity=".8" stroke-width="4.2" fill="none"/><path d="M122.85,136.64999999999998L133.15,146.95M133.15,136.64999999999998L122.85,146.95" stroke="#484848" stroke-width="2.4" fill="none"/>
<path d="M322.75,165.01 L323.46,162.74 L324.94,162.74 L325.65,165.01 L326.71,165.44 L328.81,164.34 L329.86,165.39 L328.76,167.49 L329.19,168.55 L331.46,169.26 L331.46,170.74 L329.19,171.45 L328.76,172.51 L329.86,174.61 L328.81,175.66 L326.71,174.56 L325.65,174.99 L324.94,177.26 L323.46,177.26 L322.75,174.99 L321.69,174.56 L319.59,175.66 L318.54,174.61 L319.64,172.51 L319.21,171.45 L316.94,170.74 L316.94,169.26 L319.21,168.55 L319.64,167.49 L318.54,165.39 L319.59,164.34 L321.69,165.44 Z M326.60,170.00 A2.4,2.4 0 1 0 321.80,170.00 A2.4,2.4 0 1 0 326.60,170.00 Z" fill="none" stroke="#fff" stroke-opacity=".8" stroke-width="2" fill-rule="evenodd" stroke-linejoin="round"/><path d="M322.75,165.01 L323.46,162.74 L324.94,162.74 L325.65,165.01 L326.71,165.44 L328.81,164.34 L329.86,165.39 L328.76,167.49 L329.19,168.55 L331.46,169.26 L331.46,170.74 L329.19,171.45 L328.76,172.51 L329.86,174.61 L328.81,175.66 L326.71,174.56 L325.65,174.99 L324.94,177.26 L323.46,177.26 L322.75,174.99 L321.69,174.56 L319.59,175.66 L318.54,174.61 L319.64,172.51 L319.21,171.45 L316.94,170.74 L316.94,169.26 L319.21,168.55 L319.64,167.49 L318.54,165.39 L319.59,164.34 L321.69,165.44 Z M326.60,170.00 A2.4,2.4 0 1 0 321.80,170.00 A2.4,2.4 0 1 0 326.60,170.00 Z" fill="#484848" fill-rule="evenodd" stroke-linejoin="round"/>
<path d="M340.85,164.45L351.15,174.75M351.15,164.45L340.85,174.75" stroke="#fff" stroke-opacity=".8" stroke-width="4.2" fill="none"/><path d="M340.85,164.45L351.15,174.75M351.15,164.45L340.85,174.75" stroke="#484848" stroke-width="2.4" fill="none"/>
<path d="M322.75,192.01 L323.46,189.74 L324.94,189.74 L325.65,192.01 L326.71,192.44 L328.81,191.34 L329.86,192.39 L328.76,194.49 L329.19,195.55 L331.46,196.26 L331.46,197.74 L329.19,198.45 L328.76,199.51 L329.86,201.61 L328.81,202.66 L326.71,201.56 L325.65,201.99 L324.94,204.26 L323.46,204.26 L322.75,201.99 L321.69,201.56 L319.59,202.66 L318.54,201.61 L319.64,199.51 L319.21,198.45 L316.94,197.74 L316.94,196.26 L319.21,195.55 L319.64,194.49 L318.54,192.39 L319.59,191.34 L321.69,192.44 Z M326.60,197.00 A2.4,2.4 0 1 0 321.80,197.00 A2.4,2.4 0 1 0 326.60,197.00 Z" fill="none" stroke="#fff" stroke-opacity=".8" stroke-width="2" fill-rule="evenodd" stroke-linejoin="round"/><path d="M322.75,192.01 L323.46,189.74 L324.94,189.74 L325.65,192.01 L326.71,192.44 L328.81,191.34 L329.86,192.39 L328.76,194.49 L329.19,195.55 L331.46,196.26 L331.46,197.74 L329.19,198.45 L328.76,199.51 L329.86,201.61 L328.81,202.66 L326.71,201.56 L325.65,201.99 L324.94,204.26 L323.46,204.26 L322.75,201.99 L321.69,201.56 L319.59,202.66 L318.54,201.61 L319.64,199.51 L319.21,198.45 L316.94,197.74 L316.94,196.26 L319.21,195.55 L319.64,194.49 L318.54,192.39 L319.59,191.34 L321.69,192.44 Z M326.60,197.00 A2.4,2.4 0 1 0 321.80,197.00 A2.4,2.4 0 1 0 326.60,197.00 Z" fill="#484848" fill-rule="evenodd" stroke-linejoin="round"/>
<path d="M340.85,191.45L351.15,201.75M351.15,191.45L340.85,201.75" stroke="#fff" stroke-opacity=".8" stroke-width="4.2" fill="none"/><path d="M340.85,191.45L351.15,201.75M351.15,191.45L340.85,201.75" stroke="#484848" stroke-width="2.4" fill="none"/>
<text x="21.5" y="173.7" font-size="13" fill="#222" stroke="#fff" stroke-width="2.6" stroke-opacity=".85" paint-order="stroke" stroke-linejoin="round">PIVOTPOINT (0, 8)</text>
<text x="146.4" y="173.7" font-size="13" fill="#333" stroke="#fff" stroke-width="2.6" stroke-opacity=".85" paint-order="stroke" stroke-linejoin="round">:</text>
<text x="153.7" y="173.7" font-size="13" stroke="#fff" stroke-width="2.6" stroke-opacity=".85" paint-order="stroke" stroke-linejoin="round"><tspan fill="#c8538f">PP</tspan><tspan fill="#444">,</tspan></text>
<text x="177" y="173.7" font-size="13" stroke="#fff" stroke-width="2.6" stroke-opacity=".85" paint-order="stroke" stroke-linejoin="round"><tspan fill="#1a9a5a">R1</tspan><tspan fill="#444">,</tspan></text>
<text x="201.1" y="173.7" font-size="13" stroke="#fff" stroke-width="2.6" stroke-opacity=".85" paint-order="stroke" stroke-linejoin="round"><tspan fill="#8a6a2a">S1</tspan><tspan fill="#444">,</tspan></text>
<text x="224.5" y="173.7" font-size="13" stroke="#fff" stroke-width="2.6" stroke-opacity=".85" paint-order="stroke" stroke-linejoin="round"><tspan fill="#2a4aa5">R2</tspan><tspan fill="#444">,</tspan></text>
<text x="248.6" y="173.7" font-size="13" stroke="#fff" stroke-width="2.6" stroke-opacity=".85" paint-order="stroke" stroke-linejoin="round"><tspan fill="#43384f">S2</tspan><tspan fill="#444">,</tspan></text>
<text x="272.3" y="173.7" font-size="13" stroke="#fff" stroke-width="2.6" stroke-opacity=".85" paint-order="stroke" stroke-linejoin="round"><tspan fill="#9a6a20">R3</tspan><tspan fill="#444">,</tspan></text>
<text x="296.6" y="173.7" font-size="13" stroke="#fff" stroke-width="2.6" stroke-opacity=".85" paint-order="stroke" stroke-linejoin="round"><tspan fill="#d020c0">S3</tspan></text>
<text x="21.5" y="200.8" font-size="13" fill="#222" stroke="#fff" stroke-width="2.6" stroke-opacity=".85" paint-order="stroke" stroke-linejoin="round">PIVOTPOINT (0, 9)</text>
<text x="146.4" y="200.8" font-size="13" fill="#333" stroke="#fff" stroke-width="2.6" stroke-opacity=".85" paint-order="stroke" stroke-linejoin="round">:</text>
<text x="153.7" y="200.8" font-size="13" stroke="#fff" stroke-width="2.6" stroke-opacity=".85" paint-order="stroke" stroke-linejoin="round"><tspan fill="#b030d8">PP</tspan><tspan fill="#444">,</tspan></text>
<text x="177" y="200.8" font-size="13" stroke="#fff" stroke-width="2.6" stroke-opacity=".85" paint-order="stroke" stroke-linejoin="round"><tspan fill="#f010c8">R1</tspan><tspan fill="#444">,</tspan></text>
<text x="201.1" y="200.8" font-size="13" stroke="#fff" stroke-width="2.6" stroke-opacity=".85" paint-order="stroke" stroke-linejoin="round"><tspan fill="#a030d0">S1</tspan><tspan fill="#444">,</tspan></text>
<text x="224.5" y="200.8" font-size="13" stroke="#fff" stroke-width="2.6" stroke-opacity=".85" paint-order="stroke" stroke-linejoin="round"><tspan fill="#5a50d8">R2</tspan><tspan fill="#444">,</tspan></text>
<text x="248.6" y="200.8" font-size="13" stroke="#fff" stroke-width="2.6" stroke-opacity=".85" paint-order="stroke" stroke-linejoin="round"><tspan fill="#c01870">S2</tspan><tspan fill="#444">,</tspan></text>
<text x="272.3" y="200.8" font-size="13" stroke="#fff" stroke-width="2.6" stroke-opacity=".85" paint-order="stroke" stroke-linejoin="round"><tspan fill="#a828c0">R3</tspan><tspan fill="#444">,</tspan></text>
<text x="296.6" y="200.8" font-size="13" stroke="#fff" stroke-width="2.6" stroke-opacity=".85" paint-order="stroke" stroke-linejoin="round"><tspan fill="#1890c0">S3</tspan></text>
<rect x="808.5" y="54.5" width="25" height="25" fill="#fff" fill-opacity=".7" stroke="#d4d4d4"/>
<g fill="none" stroke="#777" stroke-width="1"><path d="M818,64.7h-4v10.5h10.4v-3.8" stroke="#999"/><path d="M814,75.2h10.4v-3.8" stroke="#666"/><rect x="818.4" y="60.6" width="10.4" height="10.8" fill="#fff" stroke="#666" stroke-width="1.1"/><path d="M820.3,68.8L826.4,62.8M822.8,62.6h3.8v3.8" stroke-width=".9"/></g>
<circle cx="361.5" cy="471.4" r="12.9" fill="#fff" fill-opacity=".8" stroke="#cfcfcf" stroke-width="1"/>
<circle cx="395.5" cy="471.4" r="12.9" fill="#fff" fill-opacity=".8" stroke="#cfcfcf" stroke-width="1"/>
<circle cx="429.5" cy="471.4" r="12.9" fill="#fff" fill-opacity=".8" stroke="#cfcfcf" stroke-width="1"/>
<circle cx="463.5" cy="471.4" r="12.9" fill="#fff" fill-opacity=".8" stroke="#cfcfcf" stroke-width="1"/>
<circle cx="497.5" cy="471.4" r="12.9" fill="#fff" fill-opacity=".8" stroke="#cfcfcf" stroke-width="1"/>
<g fill="none" stroke="#a6a6a6" stroke-width="1">
<path d="M364.9,465.5v12l-9.4,-6z"/>
<circle cx="393.4" cy="469.6" r="4.5"/><path d="M390.9,469.6h5"/><path d="M396.8,473l5,4.4" stroke-width="1.7"/>
<path d="M424,465.5v11.6l7.6,-5.8z"/><rect x="433.3" y="465.5" width="2.2" height="11.6"/>
<circle cx="461.5" cy="469.6" r="4.5"/><path d="M459,469.6h5M461.5,467.1v5"/><path d="M464.9,473l5,4.4" stroke-width="1.7"/>
<path d="M494.9,465.5v12l9.4,-6z"/>
</g>
<rect x="843" y="45" width="1" height="449" fill="#3c3c3c"/>
<rect x="15" y="493" width="829" height="1" fill="#3c3c3c"/>
<g font-size="11" fill="#5a5a5a">
<text x="848" y="74.0">1.10700</text>
<text x="848" y="123.8">1.10600</text>
<text x="848" y="173.0">1.10500</text>
<text x="848" y="222.5">1.10400</text>
<text x="848" y="271.2">1.10300</text>
<text x="848" y="320.7">1.10200</text>
<text x="848" y="370.0">1.10100</text>
<text x="848" y="419.7">1.10000</text>
<text x="848" y="469.2">1.09900</text>
</g>
<clipPath id="rt"><rect x="840" y="44.5" width="64" height="450"/></clipPath><g clip-path="url(#rt)">
<rect x="842.5" y="35.1" width="55" height="13" fill="#1eaa5f" stroke="#222" stroke-width="1"/><text x="847" y="44.6" font-size="10.7" fill="#fff" font-weight="bold">1.10752</text>
</g>
<rect x="842.5" y="192.5" width="55" height="13" fill="#a31f24" stroke="#222" stroke-width="1"/><text x="847" y="202.0" font-size="10.7" fill="#fff" font-weight="bold">1.10442</text>
<rect x="842.5" y="186.5" width="55" height="13" fill="#c9479a" stroke="#222" stroke-width="1"/><text x="847" y="196.0" font-size="10.7" fill="#fff" font-weight="bold">1.10454</text>
<rect x="842.5" y="325.3" width="55" height="13" fill="#fbb20f" stroke="#222" stroke-width="1"/><text x="847" y="334.8" font-size="10.7" fill="#222">1.10173</text>
<rect x="842.5" y="356.0" width="55" height="13" fill="#0a800a" stroke="#222" stroke-width="1"/><text x="847" y="365.5" font-size="10.7" fill="#fff" font-weight="bold">1.10111</text>
<rect x="842.5" y="441.9" width="55" height="13" fill="#7d6220" stroke="#222" stroke-width="1"/><text x="847" y="451.4" font-size="10.7" fill="#fff" font-weight="bold">1.09937</text>
<rect x="842" y="395.0" width="56" height="16.5" fill="#d9534a"/>
<text x="846.5" y="407.8" font-size="13" font-weight="bold" fill="#fff">1.10029</text>
<g font-size="10" fill="#555">
<text x="24.4" y="508">16:00</text>
<text x="157.3" y="508">08:00</text>
<text x="230.3" y="508">16:00</text>
<text x="363" y="508">08:00</text>
<text x="437.3" y="508">16:00</text>
<text x="569.8" y="508">08:00</text>
<text x="642.8" y="508">16:00</text>
<text x="776.8" y="508">08:00</text>
<text x="842.6" y="508">28.11.2019</text>
</g>
<g font-size="14.3" fill="#444" stroke="#444" stroke-width=".55">
<text transform="translate(83.3,508.9) scale(0.88,1)">23</text>
<text transform="translate(306.7,508.9) scale(0.88,1)">26</text>
<text transform="translate(512.1,508.9) scale(0.88,1)">27</text>
<text transform="translate(719.1,508.9) scale(0.88,1)">28</text>
</g>
<rect x="14.5" y="515" width="883" height="1" fill="#e4e4e4"/>
<path d="M16.0,533.9 L17.7,533.4 L19.4,533.0 L21.1,533.7 L22.9,532.6 L24.6,533.3 L26.3,532.8 L28.0,532.9 L29.7,534.8 L31.3,538.2 L33.0,540.9 L36.0,543.4 L37.6,542.6 L39.2,543.3 L40.8,542.6 L42.4,542.7 L44.0,543.4 L45.6,542.2 L47.2,541.8 L48.8,539.4 L50.4,538.5 L52.0,537.9 L53.6,538.2 L55.3,538.9 L56.9,538.3 L58.5,538.1 L60.2,539.2 L61.8,537.6 L63.5,539.2 L65.1,538.2 L66.7,538.1 L68.4,538.1 L70.0,538.9 L71.7,539.8 L73.3,542.0 L75.0,542.1 L76.7,544.0 L78.3,545.4 L80.0,546.4 L81.7,545.9 L83.4,546.0 L85.1,544.9 L86.9,544.7 L88.6,544.7 L90.3,545.4 L92.0,544.8 L93.6,545.5 L95.2,546.1 L96.8,547.4 L98.4,547.9 L100.0,548.8 L102.0,548.4 L104.0,549.3 L106.0,548.8 L108.0,549.9 L110.0,550.2 L112.0,545.8 L114.0,547.8 L116.0,550.8 L118.0,546.9 L120.0,542.8 L121.7,542.7 L123.4,543.2 L125.1,542.8 L126.9,541.9 L128.6,543.0 L130.3,541.3 L132.0,541.9 L133.8,539.5 L135.5,537.9 L137.2,534.5 L139.0,532.9 L140.6,532.5 L142.2,531.3 L143.8,532.0 L145.4,531.8 L147.0,530.9 L148.6,530.4 L150.2,530.4 L151.8,528.8 L153.4,528.9 L155.0,527.9 L157.0,525.7 L159.0,523.4 L161.0,520.9 L163.0,523.3 L165.0,525.9 L166.7,526.8 L168.3,527.4 L170.0,526.9 L172.0,526.9 L174.0,527.2 L176.0,526.9 L178.0,524.1 L180.0,522.9 L181.7,523.4 L183.3,523.5 L185.0,524.3 L186.7,524.1 L188.3,523.3 L190.0,523.9 L191.7,524.5 L193.3,525.9 L195.0,525.5 L196.7,527.2 L198.3,527.5 L200.0,528.9 L203.0,523.9 L206.0,526.9 L207.6,525.6 L209.2,524.9 L210.8,525.6 L212.4,523.8 L214.0,523.9 L216.0,521.9 L218.0,520.9 L220.0,519.5 L222.0,518.4 L224.0,523.3 L226.0,526.9 L228.0,527.6 L230.0,529.9 L232.0,529.1 L234.0,528.7 L236.0,527.9 L238.5,521.9 L241.0,527.9 L244.0,529.9 L245.0,533.9 L245,559 L16,559 Z" fill="#eef4fe"/>
<path d="M16.0,533.9 L17.7,533.4 L19.4,533.0 L21.1,533.7 L22.9,532.6 L24.6,533.3 L26.3,532.8 L28.0,532.9 L29.7,534.8 L31.3,538.2 L33.0,540.9 L36.0,543.4 L37.6,542.6 L39.2,543.3 L40.8,542.6 L42.4,542.7 L44.0,543.4 L45.6,542.2 L47.2,541.8 L48.8,539.4 L50.4,538.5 L52.0,537.9 L53.6,538.2 L55.3,538.9 L56.9,538.3 L58.5,538.1 L60.2,539.2 L61.8,537.6 L63.5,539.2 L65.1,538.2 L66.7,538.1 L68.4,538.1 L70.0,538.9 L71.7,539.8 L73.3,542.0 L75.0,542.1 L76.7,544.0 L78.3,545.4 L80.0,546.4 L81.7,545.9 L83.4,546.0 L85.1,544.9 L86.9,544.7 L88.6,544.7 L90.3,545.4 L92.0,544.8 L93.6,545.5 L95.2,546.1 L96.8,547.4 L98.4,547.9 L100.0,548.8 L102.0,548.4 L104.0,549.3 L106.0,548.8 L108.0,549.9 L110.0,550.2 L112.0,545.8 L114.0,547.8 L116.0,550.8 L118.0,546.9 L120.0,542.8 L121.7,542.7 L123.4,543.2 L125.1,542.8 L126.9,541.9 L128.6,543.0 L130.3,541.3 L132.0,541.9 L133.8,539.5 L135.5,537.9 L137.2,534.5 L139.0,532.9 L140.6,532.5 L142.2,531.3 L143.8,532.0 L145.4,531.8 L147.0,530.9 L148.6,530.4 L150.2,530.4 L151.8,528.8 L153.4,528.9 L155.0,527.9 L157.0,525.7 L159.0,523.4 L161.0,520.9 L163.0,523.3 L165.0,525.9 L166.7,526.8 L168.3,527.4 L170.0,526.9 L172.0,526.9 L174.0,527.2 L176.0,526.9 L178.0,524.1 L180.0,522.9 L181.7,523.4 L183.3,523.5 L185.0,524.3 L186.7,524.1 L188.3,523.3 L190.0,523.9 L191.7,524.5 L193.3,525.9 L195.0,525.5 L196.7,527.2 L198.3,527.5 L200.0,528.9 L203.0,523.9 L206.0,526.9 L207.6,525.6 L209.2,524.9 L210.8,525.6 L212.4,523.8 L214.0,523.9 L216.0,521.9 L218.0,520.9 L220.0,519.5 L222.0,518.4 L224.0,523.3 L226.0,526.9 L228.0,527.6 L230.0,529.9 L232.0,529.1 L234.0,528.7 L236.0,527.9 L238.5,521.9 L241.0,527.9 L244.0,529.9 L245.0,533.9" fill="none" stroke="#c9dbf8" stroke-width="1.4" stroke-linejoin="round"/>
<path d="M247.0,541.9 L249.0,543.2 L251.0,543.7 L253.0,543.8 L255.0,543.5 L257.0,541.5 L259.0,540.9 L262.0,545.8 L265.0,543.4 L267.0,545.4 L269.0,547.8 L271.0,546.7 L273.0,546.9 L275.0,545.4 L276.7,546.0 L278.3,544.2 L280.0,544.0 L281.7,543.9 L283.3,543.6 L285.0,543.8 L286.8,543.5 L288.5,543.5 L290.2,542.6 L292.0,542.8 L293.6,542.5 L295.2,543.9 L296.8,544.4 L298.4,545.3 L300.0,545.8 L302.0,547.4 L304.0,547.4 L305.7,548.5 L307.3,549.0 L309.0,549.8 L310.8,549.8 L312.6,549.7 L314.4,548.4 L316.2,549.7 L318.0,548.8 L320.0,547.8 L322.0,545.8 L324.0,544.8 L326.0,547.8 L326,559 L247,559 Z" fill="#dbe8fc"/>
<path d="M247.0,541.9 L249.0,543.2 L251.0,543.7 L253.0,543.8 L255.0,543.5 L257.0,541.5 L259.0,540.9 L262.0,545.8 L265.0,543.4 L267.0,545.4 L269.0,547.8 L271.0,546.7 L273.0,546.9 L275.0,545.4 L276.7,546.0 L278.3,544.2 L280.0,544.0 L281.7,543.9 L283.3,543.6 L285.0,543.8 L286.8,543.5 L288.5,543.5 L290.2,542.6 L292.0,542.8 L293.6,542.5 L295.2,543.9 L296.8,544.4 L298.4,545.3 L300.0,545.8 L302.0,547.4 L304.0,547.4 L305.7,548.5 L307.3,549.0 L309.0,549.8 L310.8,549.8 L312.6,549.7 L314.4,548.4 L316.2,549.7 L318.0,548.8 L320.0,547.8 L322.0,545.8 L324.0,544.8 L326.0,547.8 L326.3,559" fill="none" stroke="#a5c4f3" stroke-width="1.4" stroke-linejoin="round"/>
<line x1="16.5" y1="537" x2="16.5" y2="559" stroke="#dddfe4" stroke-width="1.3"/>
<line x1="50.4" y1="550" x2="50.4" y2="559" stroke="#dddfe4" stroke-width="1.3"/>
<line x1="84.2" y1="550" x2="84.2" y2="559" stroke="#dddfe4" stroke-width="1.3"/>
<line x1="118.1" y1="550" x2="118.1" y2="559" stroke="#dddfe4" stroke-width="1.3"/>
<line x1="151.9" y1="550" x2="151.9" y2="559" stroke="#dddfe4" stroke-width="1.3"/>
<line x1="185.8" y1="537" x2="185.8" y2="559" stroke="#dddfe4" stroke-width="1.3"/>
<line x1="219.6" y1="550" x2="219.6" y2="559" stroke="#dddfe4" stroke-width="1.3"/>
<line x1="253.5" y1="550" x2="253.5" y2="559" stroke="#bfc6d2" stroke-width="1.3"/>
<line x1="287.3" y1="550" x2="287.3" y2="559" stroke="#bfc6d2" stroke-width="1.3"/>
<line x1="321.2" y1="550" x2="321.2" y2="559" stroke="#bfc6d2" stroke-width="1.3"/>
<line x1="355.0" y1="537" x2="355.0" y2="559" stroke="#ececec" stroke-width="1.3"/>
<line x1="388.9" y1="550" x2="388.9" y2="559" stroke="#ececec" stroke-width="1.3"/>
<line x1="422.7" y1="550" x2="422.7" y2="559" stroke="#ececec" stroke-width="1.3"/>
<line x1="456.6" y1="550" x2="456.6" y2="559" stroke="#ececec" stroke-width="1.3"/>
<line x1="490.4" y1="550" x2="490.4" y2="559" stroke="#ececec" stroke-width="1.3"/>
<line x1="524.2" y1="537" x2="524.2" y2="559" stroke="#ececec" stroke-width="1.3"/>
<line x1="558.1" y1="550" x2="558.1" y2="559" stroke="#ececec" stroke-width="1.3"/>
<line x1="592.0" y1="550" x2="592.0" y2="559" stroke="#ececec" stroke-width="1.3"/>
<line x1="625.8" y1="550" x2="625.8" y2="559" stroke="#ececec" stroke-width="1.3"/>
<line x1="659.6" y1="550" x2="659.6" y2="559" stroke="#ececec" stroke-width="1.3"/>
<line x1="693.5" y1="537" x2="693.5" y2="559" stroke="#ececec" stroke-width="1.3"/>
<line x1="727.4" y1="550" x2="727.4" y2="559" stroke="#ececec" stroke-width="1.3"/>
<line x1="761.2" y1="550" x2="761.2" y2="559" stroke="#ececec" stroke-width="1.3"/>
<line x1="795.1" y1="550" x2="795.1" y2="559" stroke="#ececec" stroke-width="1.3"/>
<line x1="828.9" y1="550" x2="828.9" y2="559" stroke="#ececec" stroke-width="1.3"/>
<line x1="862.8" y1="537" x2="862.8" y2="559" stroke="#ececec" stroke-width="1.3"/>
<line x1="896.6" y1="550" x2="896.6" y2="559" stroke="#ececec" stroke-width="1.3"/>
<rect x="244.1" y="515" width="1" height="44" fill="#d2d2d2"/><rect x="245.5" y="515" width="1.1" height="44" fill="#999"/>
<rect x="332.3" y="515" width="1" height="44" fill="#d2d2d2"/><rect x="333.7" y="515" width="1.1" height="44" fill="#999"/>
<rect x="0" y="559" width="904" height="5" fill="#fff"/>
</svg></body></html>
